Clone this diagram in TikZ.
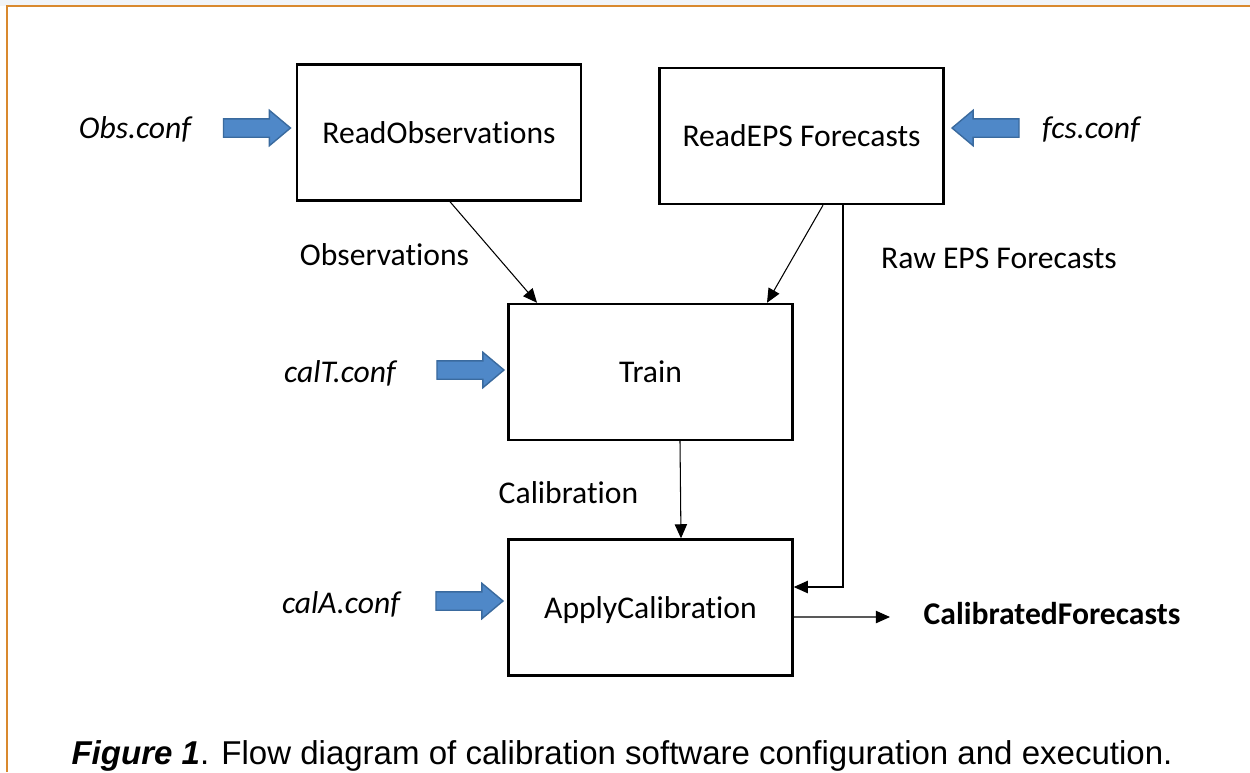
\documentclass[tikz,border=0pt]{standalone}
\usepackage{fontspec}
\setmainfont{Carlito}[Ligatures=NoCommon]
\newfontfamily\capfont{Liberation Sans}
\usetikzlibrary{shapes.arrows,arrows.meta}

\definecolor{feedblue}{HTML}{4F88C8}
\definecolor{feedline}{HTML}{3A6A9E}
\definecolor{frameorange}{HTML}{D9892E}
\definecolor{stripgray}{HTML}{F1F4F8}

\begin{document}
\begin{tikzpicture}[x=0.02cm,y=-0.02cm,font=\fontsize{18}{21}\selectfont,text depth=0pt,
  proc/.style={draw,line width=1.4pt,minimum width=5.68cm,minimum height=2.72cm,inner sep=0pt},
  conf/.style={font=\fontsize{18}{21}\selectfont\itshape},
  feed/.style={single arrow,fill=feedblue,draw=feedline,line width=0.8pt,inner sep=0.17cm,
    minimum height=1.34cm,single arrow head extend=0.17cm,single arrow tip angle=80},
  flow/.style={line width=0.6pt,-{Triangle[length=8pt,width=7pt]}}]
\useasboundingbox (0,0) rectangle (1250,772);
\fill[stripgray] (0,0) rectangle (1250,6);
\draw[frameorange,line width=1pt] (7,772) -- (7,6) -- (1250,6);

% processing steps
\node[proc] (readobs) at ( 439.0,132.5) {ReadObservations};
\node[proc] (readeps) at ( 801.5,136.0) {ReadEPS Forecasts};
\node[proc] (train)   at ( 650.5,372.0) {Train};
\node[proc] (apply)   at ( 650.5,607.5) {ApplyCalibration};

% configuration files
\node[conf] (obsconf)  at ( 135,128) {Obs.conf};
\node[conf] (fcsconf)  at (1091,128) {fcs.conf};
\node[conf] (caltconf) at ( 340,372) {calT.conf};
\node[conf] (calaconf) at ( 341,603) {calA.conf};

\node[feed]                         (obsfeed)  at ( 251.5,128) {};
\node[feed,shape border rotate=180] (fcsfeed)  at ( 991.0,128) {};
\node[feed]                         (caltfeed) at ( 465.0,370) {};
\node[feed]                         (calafeed) at ( 464.0,601) {};

% data passed between steps
\node (obslabel) at ( 384.5,255) {Observations};
\node (rawlabel) at ( 999.0,258) {Raw EPS Forecasts};
\node (callabel) at ( 568.5,493) {Calibration};
\node (calfc)    at (1052.0,613) {\bfseries CalibratedForecasts};
\coordinate (outend) at (890,617);

\draw[flow] ([xshift=0.22cm]readobs.south) -- ([xshift=-2.27cm]train.north);
\draw[flow] ([xshift=0.43cm]readeps.south) -- ([xshift=2.33cm]train.north);
\draw[flow] ([xshift=0.59cm]train.south) -- ([xshift=0.61cm]apply.north);
\draw[flow] ([xshift=0.83cm]readeps.south) |- ([yshift=0.41cm]apply.east);
\draw[flow] ([yshift=-0.19cm]apply.east) -- (outend);

\node (caption) at (622,753) {\capfont\fontsize{18.8}{22}\selectfont\textbf{\textit{Figure 1}}. Flow diagram of calibration software configuration and execution.};
\end{tikzpicture}
\end{document}
